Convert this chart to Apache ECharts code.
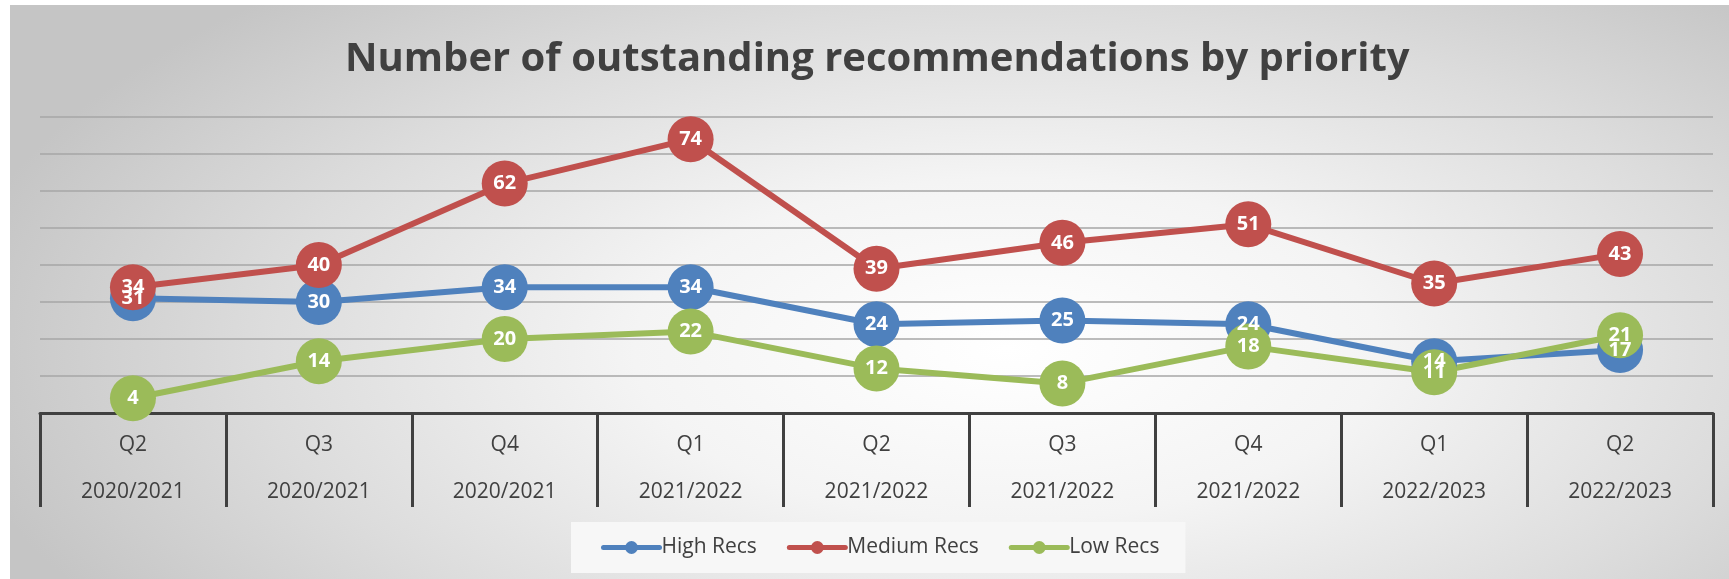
<!DOCTYPE html>
<html>
<head>
<meta charset="utf-8">
<title>Number of outstanding recommendations by priority</title>
<script src="https://cdn.jsdelivr.net/npm/echarts@6/dist/echarts.min.js"></script>
<style>
    html, body {
        margin: 0;
        padding: 0;
        background: #fff;
    }
    .bg {
        position: absolute;
        left: 10px;
        top: 5px;
        width: 1719px;
        height: 574px;
        background: radial-gradient(ellipse 62% 85% at 58% 60%, #ffffff 0%, #f4f4f4 35%, #dcdcdc 70%, #c5c5c5 100%);
    }
    #chart {
        position: absolute;
        left: 0;
        top: 0;
        width: 1729px;
        height: 579px;
    }
</style>
</head>
<body>
<div class="bg"></div>
<div id="chart"></div>
<script>
// data
var quarters = ["Q2", "Q3", "Q4", "Q1", "Q2", "Q3", "Q4", "Q1", "Q2"];
var years = ["2020/2021", "2020/2021", "2020/2021", "2021/2022", "2021/2022", "2021/2022", "2021/2022", "2022/2023", "2022/2023"];
var highRecs = [31, 30, 34, 34, 24, 25, 24, 14, 17];
var mediumRecs = [34, 40, 62, 74, 39, 46, 51, 35, 43];
var lowRecs = [4, 14, 20, 22, 12, 8, 18, 11, 21];

var labelFont = "'Open Sans', sans-serif";

function makeSeries(name, color, data) {
    return {
        name: name,
        type: "line",
        data: data,
        symbol: "circle",
        symbolSize: 46,
        lineStyle: {
            color: color,
            width: 6
        },
        itemStyle: {
            color: color
        },
        label: {
            show: true,
            position: "inside",
            color: "#fff",
            fontFamily: labelFont,
            fontWeight: "bold",
            fontSize: 20
        },
        animation: false
    };
}

var chart = echarts.init(document.getElementById("chart"));
var option = {
    title: {
        text: "Number of outstanding recommendations by priority",
        left: 340,
        top: 35,
        textStyle: {
            fontFamily: labelFont,
            fontWeight: "bold",
            fontSize: 40,
            color: "#404040"
        }
    },
    legend: {
        left: 571,
        top: 522,
        padding: [15, 26, 15, 30],
        backgroundColor: "#f7f7f7",
        itemGap: 30,
        itemWidth: 56,
        itemHeight: 16,
        lineStyle: {
            width: 5,
            cap: "round"
        },
        textStyle: {
            fontFamily: labelFont,
            fontSize: 21,
            color: "#404040",
            padding: [0, 0, 0, -3]
        },
        data: ["High Recs", "Medium Recs", "Low Recs"]
    },
    grid: {
        left: 40,
        right: 16,
        top: 117,
        bottom: 166
    },
    xAxis: {
        type: "category",
        boundaryGap: true,
        data: quarters.map(function(q, i) {
            return q + "\n" + years[i];
        }),
        axisLine: {
            lineStyle: {
                color: "#404040",
                width: 3
            }
        },
        axisTick: {
            show: true,
            interval: 0,
            length: 94,
            lineStyle: {
                color: "#404040",
                width: 3
            }
        },
        axisLabel: {
            interval: 0,
            margin: 9,
            fontFamily: labelFont,
            fontSize: 21,
            lineHeight: 47,
            color: "#404040"
        }
    },
    yAxis: {
        type: "value",
        min: 0,
        max: 80,
        interval: 10,
        axisLabel: {
            show: false
        },
        axisLine: {
            show: false
        },
        axisTick: {
            show: false
        },
        splitLine: {
            lineStyle: {
                color: "#a6a6a6",
                width: 1.5
            }
        }
    },
    series: [
        makeSeries("High Recs", "#4f81bd", highRecs),
        makeSeries("Medium Recs", "#c0504d", mediumRecs),
        makeSeries("Low Recs", "#9bbb59", lowRecs)
    ]
};
chart.setOption(option);
</script>
</body>
</html>
